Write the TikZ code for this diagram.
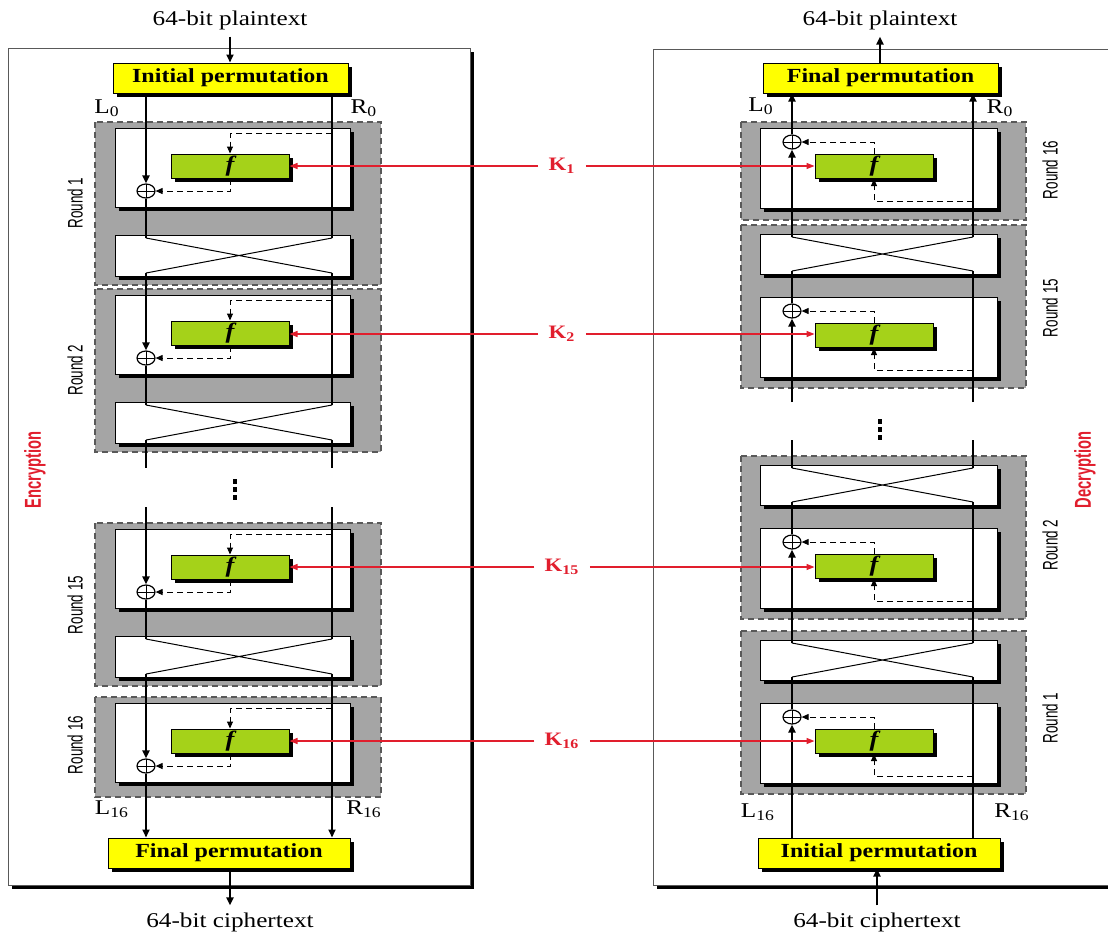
\documentclass[tikz,border=0pt]{standalone}
\usepackage{fontspec}
\setmainfont{Liberation Serif}[FakeStretch=1.2]
\newfontfamily\condfont{Liberation Sans}[FakeStretch=0.64]
\usepackage{xcolor}
\usepackage{tikz}
\usetikzlibrary{arrows.meta,positioning,shapes.geometric,shadows,calc}
\definecolor{permyellow}{RGB}{255,255,0}
\definecolor{fgreen}{RGB}{165,210,25}
\definecolor{blockgray}{RGB}{165,165,165}
\definecolor{keyred}{RGB}{225,30,45}

\begin{document}
\begin{tikzpicture}[
    x=0.5pt, y=-0.5pt,
    boxshadow/.style={general shadow={fill=black, shadow xshift=1.8pt, shadow yshift=-1.8pt}},
    panel/.style={draw=gray!70!black, line width=0.5pt, fill=white, boxshadow},
    roundblock/.style={draw=gray!70!black, dash pattern=on 3pt off 2pt, line width=0.6pt, fill=blockgray},
    stagebox/.style={draw=black, line width=0.5pt, fill=white, boxshadow},
    permbox/.style={draw=black, line width=0.5pt, fill=permyellow, inner sep=0pt, minimum height=15pt,
        font=\fontsize{10}{12}\selectfont\bfseries, boxshadow},
    fnbox/.style={draw=black, line width=0.5pt, fill=fgreen, inner sep=0pt, minimum width=59pt, minimum height=12pt,
        font=\fontsize{11}{12}\selectfont\bfseries\itshape, boxshadow},
    xorgate/.style={ellipse, draw, line width=0.6pt, fill=white, inner sep=0pt, minimum width=9pt, minimum height=7pt,
        path picture={\draw[line width=0.5pt] (path picture bounding box.north) -- (path picture bounding box.south)
            (path picture bounding box.west) -- (path picture bounding box.east);}},
    wire/.style={line width=1pt},
    cross/.style={line width=0.5pt},
    wirearrow/.style={wire, -{Triangle[length=4pt,width=3.5pt]}},
    tap/.style={line width=0.5pt, dash pattern=on 3pt off 2pt, -{Triangle[length=3.5pt,width=3pt]}},
    keyarrow/.style={keyred, line width=0.6pt, -{Triangle[length=4pt,width=3pt]}},
    keylabel/.style={text=keyred, font=\fontsize{9.5}{10}\selectfont\bfseries, inner sep=5pt},
    iotext/.style={font=\fontsize{10.5}{12}\selectfont},
    lrtext/.style={font=\fontsize{10.5}{12}\selectfont},
    roundtext/.style={rotate=90, font=\condfont\fontsize{10.5}{11}\selectfont},
    sidetext/.style={rotate=90, text=keyred, font=\condfont\fontsize{11.5}{12}\selectfont\bfseries}
]
\useasboundingbox (0,0) rectangle (1108,934);
\clip (0,0) rectangle (1108,934);

% the two panels
\draw[panel] (8,48) rectangle (470,885);
\draw[panel] (653,49) rectangle (1125,885);

\coordinate (eL) at (146,0);
\coordinate (eR) at (332,0);
\coordinate (dL) at (792,0);
\coordinate (dR) at (973,0);

% encryption rounds
\foreach \w/\n in {128/1,295/2,529/15,703/16} {
    \ifnum\n=16
        \draw[roundblock] (95,\w-6) rectangle (381,\w+94);
    \else
        \draw[roundblock] (95,\w-6) rectangle (381,\w+157);
        \draw[stagebox] (115,\w+107) rectangle (350,\w+148);
        \coordinate (E\n-tl) at (146,\w+110);
        \coordinate (E\n-tr) at (332,\w+110);
        \coordinate (E\n-bl) at (146,\w+145);
        \coordinate (E\n-br) at (332,\w+145);
        \draw[cross] (E\n-tl) -- (E\n-br) (E\n-tr) -- (E\n-bl);
    \fi
    \draw[stagebox] (115,\w) rectangle (350,\w+79);
    \node[fnbox] (fE\n) at (230,\w+38) {f};
    \node[xorgate] (xE\n) at (146,\w+63) {};
    \draw[tap] (eR |- fE\n.north) ++(0,-20) -| (fE\n.north);
    \draw[tap] (fE\n.south) |- (xE\n.east);
}

% decryption rounds
\foreach \w/\n in {128/16,297/15,528/2,703/1} {
    \ifnum\n=16
        \draw[roundblock] (741,\w-6) rectangle (1026,\w+92);
    \else
        \draw[roundblock] (741,\w-72) rectangle (1026,\w+91);
        \draw[stagebox] (760,\w-63) rectangle (997,\w-23);
        \coordinate (D\n-tl) at (792,\w-60);
        \coordinate (D\n-tr) at (973,\w-60);
        \coordinate (D\n-bl) at (792,\w-26);
        \coordinate (D\n-br) at (973,\w-26);
        \draw[cross] (D\n-tl) -- (D\n-br) (D\n-tr) -- (D\n-bl);
    \fi
    \draw[stagebox] (760,\w) rectangle (997,\w+80);
    \node[fnbox] (fD\n) at (874,\w+38.5) {f};
    \node[xorgate] (xD\n) at (792,\w+14) {};
    \draw[tap] (fD\n.north) |- (xD\n.east);
    \draw[tap] (dR |- fD\n.south) ++(0,22) -| (fD\n.south);
}

% permutations and inputs/outputs
\node[iotext] (ptE) at (230,20) {64-bit plaintext};
\node[permbox, minimum width=117.5pt] (ipE) at (230.5,78) {Initial permutation};
\node[permbox, minimum width=121pt] (fpE) at (229,853) {Final permutation};
\node[iotext] (ctE) at (230,922) {64-bit ciphertext};
\node[iotext] (ptD) at (880,20) {64-bit plaintext};
\node[permbox, minimum width=117.5pt] (fpD) at (880.5,78) {Final permutation};
\node[permbox, minimum width=121pt] (ipD) at (879,853) {Initial permutation};
\node[iotext] (ctD) at (877,922) {64-bit ciphertext};
\draw[wirearrow] (ptE.south) -- (ptE.south |- ipE.north);
\draw[wirearrow] (fpE.south -| ctE.north) -- (ctE.north);
\draw[wirearrow] (fpD.north -| ptD.south) -- (ptD.south);
\draw[wirearrow] (ctD.north) -- (ctD.north |- ipD.south);

% gaps at the dots
\coordinate (gE-l1) at (146,468);
\coordinate (gE-r1) at (332,468);
\coordinate (gE-l2) at (146,507);
\coordinate (gE-r2) at (332,507);
\coordinate (gD-l1) at (792,402);
\coordinate (gD-r1) at (973,402);
\coordinate (gD-l2) at (792,440);
\coordinate (gD-r2) at (973,440);
\foreach \d in {0,1,2} {
    \fill (233,479+8*\d) rectangle ++(4,5);
    \fill (878,419+8*\d) rectangle ++(4,5);
}

% encryption wires
\draw[wirearrow] (ipE.south -| eL) -- (xE1.north);
\draw[wire] (ipE.south -| eR) -- (E1-tr);
\draw[wire] (xE1.south) -- (E1-tl);
\draw[wirearrow] (E1-bl) -- (xE2.north);
\draw[wire] (E1-br) -- (E2-tr);
\draw[wire] (xE2.south) -- (E2-tl);
\draw[wire] (E2-bl) -- (gE-l1);
\draw[wire] (E2-br) -- (gE-r1);
\draw[wirearrow] (gE-l2) -- (xE15.north);
\draw[wire] (gE-r2) -- (E15-tr);
\draw[wire] (xE15.south) -- (E15-tl);
\draw[wirearrow] (E15-bl) -- (xE16.north);
\draw[wirearrow] (E15-br) -- (fpE.north -| eR);
\draw[wirearrow] (xE16.south) -- (fpE.north -| eL);

% decryption wires
\draw[wirearrow] (ipD.north -| dL) -- (xD1.south);
\draw[wire] (ipD.north -| dR) -- (D1-br);
\draw[wire] (xD1.north) -- (D1-bl);
\draw[wirearrow] (D1-tl) -- (xD2.south);
\draw[wire] (D1-tr) -- (D2-br);
\draw[wire] (xD2.north) -- (D2-bl);
\draw[wire] (D2-tl) -- (gD-l2);
\draw[wire] (D2-tr) -- (gD-r2);
\draw[wirearrow] (gD-l1) -- (xD15.south);
\draw[wire] (gD-r1) -- (D15-br);
\draw[wire] (xD15.north) -- (D15-bl);
\draw[wirearrow] (D15-tl) -- (xD16.south);
\draw[wirearrow] (D15-tr) -- (fpD.south -| dR);
\draw[wirearrow] (xD16.north) -- (fpD.south -| dL);

% round keys
\foreach \k/\y/\e/\d in {1/166/1/16, 2/334/2/15, 15/567/15/2, 16/741/16/1} {
    \node[keylabel] (k\k) at (562,\y) {K\textsubscript{\k}};
    \draw[keyarrow] (k\k.west) -- (k\k.west -| fE\e.east);
    \draw[keyarrow] (k\k.east) -- (k\k.east -| fD\d.west);
}

% labels
\node[lrtext] (lE0) at (107,108) {L\textsubscript{0}};
\node[lrtext] (rE0) at (364,108) {R\textsubscript{0}};
\node[lrtext] (lE16) at (112,809) {L\textsubscript{16}};
\node[lrtext] (rE16) at (364,809) {R\textsubscript{16}};
\node[lrtext] (lD0) at (761,106) {L\textsubscript{0}};
\node[lrtext] (rD0) at (1000,108) {R\textsubscript{0}};
\node[lrtext] (lD16) at (758,812) {L\textsubscript{16}};
\node[lrtext] (rD16) at (1012,812) {R\textsubscript{16}};
\node[roundtext] (rndE1) at (75,203) {Round 1};
\node[roundtext] (rndE2) at (75,370) {Round 2};
\node[roundtext] (rndE15) at (75,605) {Round 15};
\node[roundtext] (rndE16) at (75,745) {Round 16};
\node[roundtext] (rndD16) at (1050,170) {Round 16};
\node[roundtext] (rndD15) at (1050,308) {Round 15};
\node[roundtext] (rndD2) at (1050,545) {Round 2};
\node[roundtext] (rndD1) at (1050,718) {Round 1};
\node[sidetext] (enc) at (35,470) {Encryption};
\node[sidetext] (dec) at (1085,470) {Decryption};
\end{tikzpicture}
\end{document}
